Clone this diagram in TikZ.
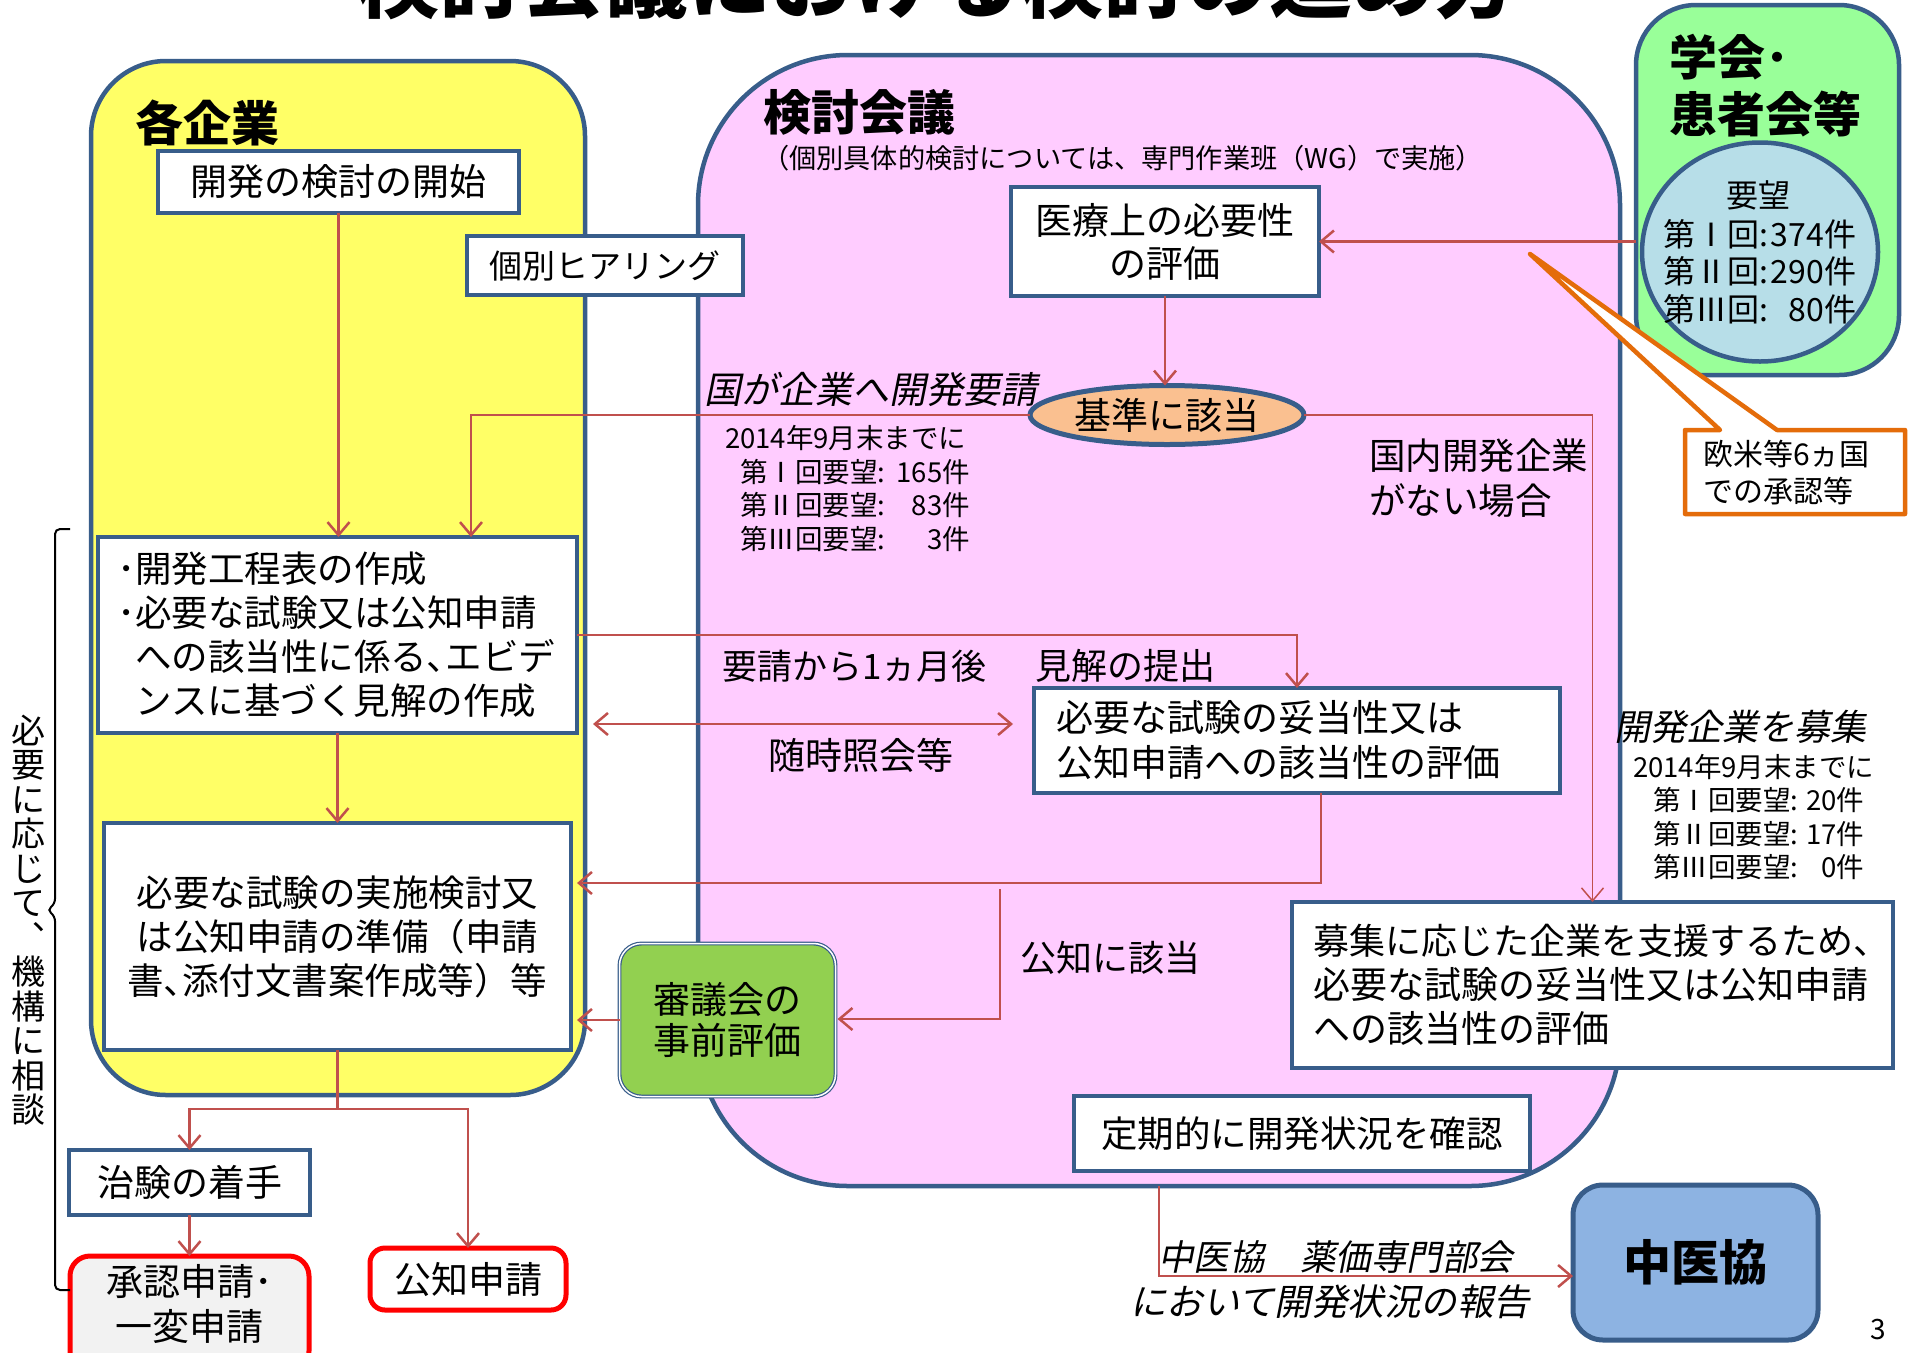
\documentclass[tikz,border=0pt]{standalone}
\usepackage{fontspec}
\setmainfont{Noto Sans CJK JP}
\newfontfamily\jpit[FakeSlant=0.2]{Noto Sans CJK JP}
\usetikzlibrary{arrows.meta,shapes.geometric,calc}
\newcommand\jfs[2]{\fontsize{#1}{#2}\selectfont}
\newcommand\rnum[1]{\makebox[1em]{#1}}
\definecolor{bdblue}{RGB}{56,93,138}
\definecolor{arrred}{RGB}{192,80,77}
\definecolor{yellowF}{RGB}{255,255,102}
\definecolor{pinkF}{RGB}{255,204,255}
\definecolor{greenF}{RGB}{153,255,153}
\definecolor{lblueF}{RGB}{183,222,232}
\definecolor{orangeF}{RGB}{250,192,144}
\definecolor{orangeL}{RGB}{228,108,10}
\definecolor{greenS}{RGB}{146,208,80}
\definecolor{blueF}{RGB}{141,179,226}
\definecolor{grayF}{RGB}{242,242,242}
\definecolor{redB}{RGB}{255,0,0}
\begin{document}
\begin{tikzpicture}[x=1pt,y=-1pt,
  every node/.style={inner sep=0pt, outer sep=0pt},
  bd/.style={draw=bdblue, line width=4.5pt},
  wbox/.style={draw=bdblue, line width=4pt, fill=white},
  redbox/.style={draw=redB, line width=5pt},
  arr/.style={draw=arrred, line width=2.5pt, -{Straight Barb[length=13pt,width=22pt]}},
  arrboth/.style={draw=arrred, line width=2.5pt, {Straight Barb[length=13pt,width=22pt]}-{Straight Barb[length=13pt,width=22pt]}},
  rline/.style={draw=arrred, line width=2.5pt},
  t37/.style={font=\jfs{37}{45}},
  t36/.style={font=\jfs{36}{44}},
  t32/.style={font=\jfs{32}{38}},
  t27/.style={font=\jfs{27.5}{33}},
  ttl/.style={font=\bfseries\jfs{48}{57}},
  itl/.style={font=\jpit\jfs{36}{42}}
]
\useasboundingbox (0,0) rectangle (1910,1352);
\fill[white] (0,0) rectangle (1910,1352);

% title (cut at top)
\node[anchor=base, font=\bfseries\jfs{83}{90}] (title) at (937,11) {検討会議における検討の進め方};

% containers
\node[bd, fill=yellowF, rounded corners=75pt, minimum width=494pt, minimum height=1034pt] (kigyo) at (338,578) {};
\node[bd, fill=pinkF, rounded corners=150pt, minimum width=922pt, minimum height=1131pt] (kentou) at (1159,620.5) {};
\node[bd, fill=greenF, rounded corners=60pt, minimum width=263pt, minimum height=370pt] (gakkai) at (1767.5,190) {};
\node[ellipse, bd, fill=lblueF, minimum width=236pt, minimum height=219pt] (youbou) at (1760,252) {};

% container titles
\node[anchor=west, ttl] (kigyoT) at (135,123) {各企業};
\node[anchor=west, ttl] (kentouT) at (763,112) {検討会議};
\node[anchor=west, font=\jfs{27.2}{32}] (kentouS) at (762,158) {（個別具体的検討については、専門作業班（WG）で実施）};
\node[anchor=west, ttl, align=left] (gakkaiT) at (1669,86) {学会･\\患者会等};

% requests in ellipse
\node[t32] (yb0) at (1758,195) {要望};
\node[t32, anchor=west] (yb1a) at (1663,234) {第\rnum{Ⅰ}回:};
\node[t32, anchor=east] (yb1b) at (1856,234) {374件};
\node[t32, anchor=west] (yb2a) at (1663,271) {第\rnum{Ⅱ}回:};
\node[t32, anchor=east] (yb2b) at (1856,271) {290件};
\node[t32, anchor=west] (yb3a) at (1663,309) {第\rnum{Ⅲ}回:};
\node[t32, anchor=east] (yb3b) at (1856,309) {80件};

% callout
\draw[draw=orangeL, fill=white, line width=4.5pt, line join=round] (1685,430) -- (1720,430) -- (1530,254) -- (1777,430) -- (1905,430) -- (1905,514) -- (1685,514) -- cycle;
\node[anchor=west, align=left, font=\jfs{30}{37}] (oubei) at (1703,472.5) {欧米等6ヵ国\\での承認等};

% boxes
\node[wbox, minimum width=361pt, minimum height=62pt, t37] (kaishi) at (338.5,182) {開発の検討の開始};
\node[wbox, minimum width=276pt, minimum height=59pt, font=\jfs{33}{40}] (hearing) at (605,265.5) {個別ヒアリング};
\node[wbox, minimum width=308pt, minimum height=109pt, align=center, font=\jfs{37}{43}] (iryo) at (1165,241.5) {医療上の必要性\\の評価};
\node[ellipse, bd, line width=5pt, fill=orangeF, minimum width=274pt, minimum height=59pt, t37] (kijun) at (1167,415) {基準に該当};
\node[wbox, minimum width=479pt, minimum height=196pt, text width=441pt, inner xsep=19pt, align=left, font=\jfs{36.5}{44}] (kotei) at (337.5,635) {･開発工程表の作成\\･必要な試験又は公知申請\\\phantom{･}への該当性に係る､エビデ\\\phantom{･}ンスに基づく見解の作成};
\node[wbox, minimum width=526pt, minimum height=105pt, text width=482pt, inner xsep=22pt, align=left, font=\jfs{37}{45}] (datou) at (1297,740.5) {必要な試験の妥当性又は\\公知申請への該当性の評価};
\node[wbox, minimum width=467pt, minimum height=227pt, align=center, font=\jfs{36.5}{44}] (jisshi) at (337.5,936.5) {必要な試験の実施検討又\\は公知申請の準備（申請\\書､添付文書案作成等）等};
\node[draw=bdblue, line width=1.2pt, double=white, double distance=1.5pt, fill=greenS, rounded corners=22pt, minimum width=216pt, minimum height=153pt, align=center, font=\jfs{37}{41}] (shingi) at (727.5,1020) {審議会の\\事前評価};
\node[wbox, minimum width=241pt, minimum height=65pt, t37] (chiken) at (189.5,1182.5) {治験の着手};
\node[redbox, fill=grayF, rounded corners=20pt, minimum width=239pt, minimum height=115pt] (shonin) at (189.5,1313.5) {};
\node[align=center, font=\jfs{37}{45}] (shoninT) at (189.5,1303.5) {承認申請･\\一変申請};
\node[redbox, fill=white, rounded corners=15pt, minimum width=196pt, minimum height=62pt, t37] (kochi) at (468,1279) {公知申請};
\node[wbox, minimum width=601pt, minimum height=166pt, text width=559pt, inner xsep=21pt, align=left, font=\jfs{37}{44}] (boshu) at (1592.5,985) {{\jfs{36}{44}募集に応じた企業を支援するため、}\\必要な試験の妥当性又は公知申請\\への該当性の評価};
\node[wbox, minimum width=456pt, minimum height=75pt, font=\jfs{36.5}{44}] (teiki) at (1302,1133.5) {定期的に開発状況を確認};
\node[bd, line width=5pt, fill=blueF, rounded corners=30pt, minimum width=245pt, minimum height=155pt, ttl] (chuikyo) at (1695.5,1262.5) {中医協};

% labels
\node[anchor=west, font=\jpit\jfs{37}{40}] (kuni) at (704,389) {国が企業へ開発要請};
\node[anchor=west, t27] (d1) at (725,438) {2014年9月末までに};
\node[anchor=west, t27] (d2a) at (740,472) {第\rnum{Ⅰ}回要望:};
\node[anchor=east, t27] (d2b) at (970,472) {165件};
\node[anchor=west, t27] (d3a) at (740,505) {第\rnum{Ⅱ}回要望:};
\node[anchor=east, t27] (d3b) at (970,505) {83件};
\node[anchor=west, t27] (d4a) at (740,539) {第\rnum{Ⅲ}回要望:};
\node[anchor=east, t27] (d4b) at (970,539) {3件};
\node[anchor=west, align=left, font=\jfs{36.5}{45}] (kokunai) at (1369,478.5) {国内開発企業\\がない場合};
\node[anchor=west, font=\jfs{35}{42}] (youseigo) at (722,666) {要請から1ヵ月後};
\node[anchor=west, font=\jfs{36}{42}] (kenkai) at (1035,666) {見解の提出};
\node[t37] (zuiji) at (861,755) {随時照会等};
\node[anchor=west, t36] (kochigai) at (1020,958) {公知に該当};
\node[anchor=west, itl] (boshuT) at (1614,727) {開発企業を募集};
\node[anchor=west, t27] (e1) at (1633,767) {2014年9月末までに};
\node[anchor=west, t27] (e2a) at (1653,800) {第\rnum{Ⅰ}回要望:};
\node[anchor=east, t27] (e2b) at (1864,800) {20件};
\node[anchor=west, t27] (e3a) at (1653,834) {第\rnum{Ⅱ}回要望:};
\node[anchor=east, t27] (e3b) at (1864,834) {17件};
\node[anchor=west, t27] (e4a) at (1653,867) {第\rnum{Ⅲ}回要望:};
\node[anchor=east, t27] (e4b) at (1864,867) {0件};
\node[anchor=west, font=\jpit\jfs{35.5}{42}] (chuT1) at (1158,1257) {中医協　薬価専門部会};
\node[anchor=west, font=\jpit\jfs{36.5}{42}] (chuT2) at (1130,1302) {において開発状況の報告};
\node[font=\jfs{28}{34}] (pnum) at (1878,1329) {3};

% side brace and text
\draw[line width=2pt, rounded corners=5pt] (70,529) -- (55,529) -- (55,904) -- (47,910) -- (55,916) -- (55,1290) -- (70,1290);
\node[align=center, font=\jfs{34}{34.5}] (soudan) at (28,920) {必\\要\\に\\応\\じ\\て\\︑\\機\\構\\に\\相\\談};

% connectors
\draw[arr] (kaishi.south) -- (kaishi.south |- kotei.north);
\draw[arr] (kijun.west) -| ($(kotei.north)+(133.5,0)$);
\draw[arr] (kotei.east) -| (datou.north);
\draw[arrboth] ($(kotei.east |- datou.west)+(16,-16.5)$) -- ($(datou.west)+(-21,-16.5)$);
\draw[arr] (kotei.south) -- (kotei.south |- jisshi.north);
\draw[arr] ($(datou.south)+(24,0)$) |- ($(jisshi.east)+(6,-53.5)$);
\coordinate (kc) at (1000,889);
\draw[arr] (kc) |- ($(shingi.east)+(2,-1)$);
\draw[arr] (shingi.west) -- ($(shingi.west -| jisshi.east)+(6,0)$);
\draw[rline] (jisshi.south) -- ($(jisshi.south)+(0,59)$) coordinate (sp);
\draw[arr] (sp) -| (chiken.north);
\draw[arr] (sp) -| (kochi.north);
\draw[arr] (chiken.south) -- (chiken.south |- shonin.north);
\draw[arr] (gakkai.west |- iryo.east) -- (iryo.east);
\draw[arr] (iryo.south) -- (iryo.south |- kijun.north);
\draw[arr, line width=1.5pt] (kijun.east) -| (boshu.north);
\draw[arr] (kentou.south) |- ($(chuikyo.west)+(0,13.5)$);
\end{tikzpicture}
\end{document}
